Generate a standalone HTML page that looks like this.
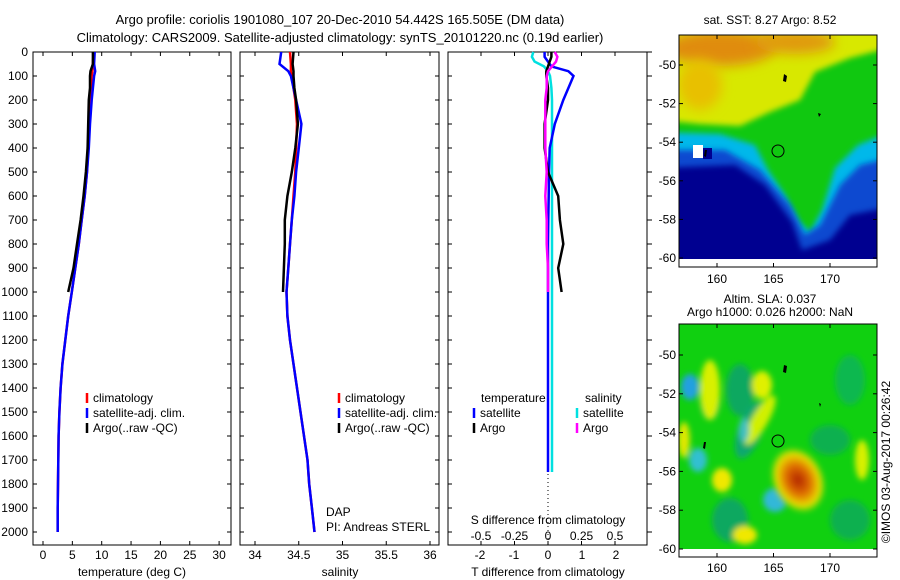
<!DOCTYPE html>
<html><head><meta charset="utf-8"><style>
html,body{margin:0;padding:0;background:#fff;}
svg{display:block;font-family:"Liberation Sans",sans-serif;}
</style></head><body>
<svg id="fig" width="900" height="580" viewBox="0 0 900 580">
<defs>
<filter id="bl" x="-20%" y="-20%" width="140%" height="140%"><feGaussianBlur stdDeviation="3"/></filter>
<filter id="bl2" x="-50%" y="-50%" width="200%" height="200%"><feGaussianBlur stdDeviation="6"/></filter>
<clipPath id="c1"><rect x="679" y="35" width="198" height="224"/></clipPath>
<clipPath id="c2"><rect x="679" y="324" width="198" height="225"/></clipPath>
<radialGradient id="hot"><stop offset="0" stop-color="#b02000"/><stop offset="0.45" stop-color="#e07000"/><stop offset="0.8" stop-color="#e8e000"/><stop offset="1" stop-color="#e8e000" stop-opacity="0"/></radialGradient>
</defs>
<text x="340" y="24" font-size="13" text-anchor="middle">Argo profile: coriolis 1901080_107 20-Dec-2010 54.442S 165.505E (DM data)</text>
<text x="340" y="42" font-size="13" text-anchor="middle">Climatology: CARS2009. Satellite-adjusted climatology: synTS_20101220.nc (0.19d earlier)</text>

<!-- SST map -->
<g>
<g clip-path="url(#c1)">
<rect x="679" y="35" width="198" height="224" fill="#10c810"/>
<polygon filter="url(#bl)" fill="#d8e800" points="660,20 900,20 900,45 850,58 815,72 800,100 770,112 740,126 700,124 660,120"/>
<ellipse filter="url(#bl2)" cx="720" cy="48" rx="55" ry="18" fill="#e08c10"/>
<ellipse filter="url(#bl2)" cx="795" cy="42" rx="40" ry="12" fill="#e09a10"/>
<ellipse filter="url(#bl2)" cx="700" cy="85" rx="22" ry="25" fill="#e8c000"/>
<polygon filter="url(#bl)" fill="#00b8ea" points="660,132 720,134 755,145 768,170 785,195 800,222 810,232 822,210 835,168 858,145 900,128 900,280 660,280"/>
<polygon filter="url(#bl)" fill="#1048d0" points="660,150 725,150 760,170 790,205 805,235 820,225 840,185 860,165 900,155 900,280 660,280"/>
<polygon filter="url(#bl)" fill="#000090" points="660,168 735,165 765,185 792,222 802,250 830,240 850,215 900,205 900,280 660,280"/>
<rect x="693" y="145" width="10" height="13" fill="#fff"/><rect x="703" y="148" width="9" height="11" fill="#000090"/>
</g>
<rect x="679" y="259" width="198" height="8" fill="#fff"/>
<rect x="679" y="35" width="198" height="232" fill="none" stroke="#000" stroke-width="1"/>
<path d="M784,74 l3,2 -1,6 -3,-1z M818,113 l3,1 -2,3z M705,150 l2,0 -1,7 -2,-1z" fill="#000"/>
<circle cx="778" cy="151" r="6" fill="none" stroke="#000"/>
<text x="770" y="24" font-size="12" text-anchor="middle">sat. SST: 8.27 Argo: 8.52</text>
</g>

<!-- SLA map -->
<g>
<g clip-path="url(#c2)">
<rect x="679" y="324" width="198" height="225" fill="#10d010"/>
<g filter="url(#bl)">
<ellipse cx="740" cy="390" rx="14" ry="26" fill="#10a860"/>
<ellipse cx="750" cy="430" rx="12" ry="30" fill="#10a870" transform="rotate(20 750 430)"/>
<ellipse cx="710" cy="400" rx="10" ry="20" fill="#10b060"/>
<ellipse cx="830" cy="440" rx="20" ry="15" fill="#10b050"/>
<ellipse cx="850" cy="380" rx="15" ry="25" fill="#10b850"/>
<ellipse cx="730" cy="520" rx="18" ry="22" fill="#10a860"/>
<ellipse cx="850" cy="520" rx="20" ry="20" fill="#10b050"/>
<ellipse cx="710" cy="390" rx="10" ry="30" fill="#d8f000"/>
<ellipse cx="760" cy="420" rx="8" ry="28" fill="#d0f000" transform="rotate(30 760 420)"/>
<ellipse cx="762" cy="385" rx="10" ry="14" fill="#e0f000"/>
<ellipse cx="722" cy="480" rx="10" ry="12" fill="#f0e800"/>
<ellipse cx="745" cy="535" rx="12" ry="9" fill="#f0e800"/>
<ellipse cx="862" cy="460" rx="7" ry="20" fill="#d8f000"/>
<ellipse cx="684" cy="440" rx="6" ry="18" fill="#e0e800"/>
<ellipse cx="690" cy="387" rx="9" ry="13" fill="#20a0e0"/>
<ellipse cx="698" cy="460" rx="9" ry="12" fill="#30c0d0"/>
<ellipse cx="775" cy="500" rx="12" ry="12" fill="#30b8d8"/>
<ellipse cx="744" cy="430" rx="5" ry="12" fill="#40c0c0"/>
</g>
<ellipse filter="url(#bl)" cx="798" cy="480" rx="26" ry="34" fill="url(#hot)" transform="rotate(-25 798 480)"/>
</g>
<rect x="679" y="549" width="198" height="8" fill="#fff"/>
<rect x="679" y="324" width="198" height="233" fill="none" stroke="#000" stroke-width="1"/>
<path d="M784,365 l3,1 -1,7 -3,-1z M819,403 l2,1 -1,3z M704,442 l2,0 -1,7 -2,-1z" fill="#000"/>
<circle cx="778" cy="441" r="6" fill="none" stroke="#000"/>
<text x="770" y="303" font-size="12" text-anchor="middle">Altim. SLA: 0.037</text>
<text x="770" y="316" font-size="12" text-anchor="middle">Argo h1000: 0.026 h2000: NaN</text>
</g>
<text x="0" y="0" font-size="12" transform="translate(890,462) rotate(-90)" text-anchor="middle">©IMOS 03-Aug-2017 00:26:42</text>

<text x="326" y="516" font-size="12">DAP</text>
<text x="326" y="531" font-size="12">PI: Andreas STERL</text>
<text x="548" y="524" font-size="12" text-anchor="middle">S difference from climatology</text>
<text x="548" y="576" font-size="12" text-anchor="middle">T difference from climatology</text>
<text x="132" y="576" font-size="12" text-anchor="middle">temperature (deg C)</text>
<text x="340" y="576" font-size="12" text-anchor="middle">salinity</text>
<g id="dyn"></g>
</svg>
<script>
// ---- data ----
var depthTicks = [0,100,200,300,400,500,600,700,800,900,1000,1100,1200,1300,1400,1500,1600,1700,1800,1900,2000];
var tempTicks = [0,5,10,15,20,25,30];
var salTicks = [34,34.5,35,35.5,36];
var tDiffTicks = [-2,-1,0,1,2];
var sDiffTicks = [-0.5,-0.25,0,0.25,0.5];
var sDiffTickLabels = ["-0.5","-0.25","0","0.25","0.5"];
var latTicks = [-50,-52,-54,-56,-58,-60];
var lonTicks = [160,165,170];

var profDepth = [0,50,80,100,150,200,300,400,500,600,700,800,900,1000,1100,1200,1300,1400,1500,1600,1700,1800,1900,2000];
var tClim = [8.6,8.5,8.4,8.3,8.2,8.1,7.9,7.7,7.5,7.1,6.6,6.1,5.5,4.9,4.3,3.8,3.3,3.0,2.8,2.65,2.6,2.55,2.5,2.5];
var tSat  = [8.8,8.7,8.9,8.7,8.5,8.3,8.0,7.8,7.5,7.1,6.6,6.1,5.5,4.9,4.3,3.8,3.3,3.0,2.8,2.65,2.6,2.55,2.5,2.5];
var tArgo = [8.5,8.5,8.1,8.0,8.0,7.8,7.7,7.6,7.3,6.9,6.4,5.8,5.2,4.3];
var sClim = [34.40,34.41,34.41,34.42,34.44,34.46,34.48,34.47,34.46,34.44,34.42,34.40,34.38,34.36,34.37,34.40,34.44,34.48,34.52,34.56,34.60,34.62,34.65,34.68];
var sSat  = [34.30,34.28,34.38,34.41,34.44,34.47,34.53,34.50,34.47,34.45,34.42,34.40,34.38,34.36,34.37,34.40,34.44,34.48,34.52,34.56,34.60,34.62,34.65,34.68];
var sArgo = [34.44,34.43,34.44,34.44,34.45,34.47,34.49,34.46,34.42,34.37,34.34,34.34,34.33,34.32];

var diffDepth = [0,20,40,60,80,100,150,200,300,400,500,600,700,800,900,1000,1200,1400,1600,1750];
var dTSat  = [-0.1,-0.1,0,0.1,0.6,0.75,0.6,0.45,0.2,0.05,0.03,0.02,0.01,0,0,0,0,0,0,0];
var dTArgo = [0.1,0.1,0.05,0,-0.05,-0.05,0,0,-0.1,-0.1,0,0.3,0.35,0.45,0.3,0.4];
var dSSat  = [-0.11,-0.12,-0.1,-0.03,0,0.015,0.025,0.03,0.03,0.03,0.03,0.03,0.03,0.03,0.03,0.03,0.03,0.03,0.03,0.03];
var dSArgo = [0.05,0.07,0.06,0.03,0,-0.01,-0.01,-0.02,-0.02,-0.02,-0.01,-0.02,-0.01,-0.01,0,0];

// ---- scales ----
function yD(d){ return 52 + d*0.24; }
function xT(t){ return 43 + t*5.87; }
function xS(s){ return 255 + (s-34)*87.5; }
function xDT(t){ return 548 + t*34; }
function xDS(s){ return 548 + s*134; }
function yLat1(l){ return 65 + (-50-l)*19.3; }
function yLat2(l){ return 355 + (-50-l)*19.4; }
function xLon(l){ return 717 + (l-160)*11.3; }

var NS='http://www.w3.org/2000/svg';
var root=document.getElementById('dyn');
function mk(tag,attrs,parent){var e=document.createElementNS(NS,tag);for(var k in attrs)e.setAttribute(k,attrs[k]);(parent||root).appendChild(e);return e;}
function txt(x,y,s,anchor,parent){var e=mk('text',{x:x,y:y,'font-size':12,'text-anchor':anchor||'middle'},parent);e.textContent=s;return e;}

var panels=[[33,231],[240,439],[448,647]];
panels.forEach(function(p,i){
  var r=mk('rect',{x:p[0],y:52,width:p[1]-p[0],height:493,fill:'none',stroke:'#000','stroke-width':1});
  
  
  depthTicks.forEach(function(d){
    var y=yD(d);
    mk('line',{x1:p[0],x2:p[0]+4,y1:y,y2:y,stroke:'#000'});
    if(i<2) mk('line',{x1:p[1]-4,x2:p[1],y1:y,y2:y,stroke:'#000'});
    else mk('line',{x1:p[1],x2:p[1]+5,y1:y,y2:y,stroke:'#000'});
  });
});
depthTicks.forEach(function(d){
  var t=txt(28,yD(d)+4,String(d),'end');
  
  
});
function xTicks(vals,fx,labels,ly,top){
  vals.forEach(function(v,i){
    var x=fx(v);
    mk('line',{x1:x,x2:x,y1:545,y2:541,stroke:'#000'});
    if(top) mk('line',{x1:x,x2:x,y1:52,y2:56,stroke:'#000'});
    var t=txt(x,ly,labels[i]);
    
    
  });
}
xTicks(tempTicks,xT,tempTicks.map(String),559,true);
xTicks(salTicks,xS,salTicks.map(String),559,true);
xTicks(sDiffTicks,xDS,sDiffTickLabels,540,true);
tDiffTicks.forEach(function(v){var t=txt(xDT(v),559,String(v));
  
  });
mk('line',{x1:548,x2:548,y1:470,y2:545,stroke:'#000','stroke-dasharray':'1,3'});

function line(xs,ds,fx,color,name,w){
  var pts=xs.map(function(v,i){return fx(v).toFixed(1)+','+yD(ds[i]).toFixed(1);}).join(' ');
  var l=mk('polyline',{points:pts,fill:'none',stroke:color,'stroke-width':w||2.5});
  
  
}
line(tClim,profDepth,xT,'#f00','temp-climatology-line');
line(tSat,profDepth,xT,'#00f','temp-satellite-line');
line(tArgo,profDepth.slice(0,tArgo.length),xT,'#000','temp-argo-line');
line(sClim,profDepth,xS,'#f00','sal-climatology-line');
line(sSat,profDepth,xS,'#00f','sal-satellite-line');
line(sArgo,profDepth.slice(0,sArgo.length),xS,'#000','sal-argo-line');
line(dSSat,diffDepth,xDS,'#00e0e0','s-diff-satellite-line');
line(dTSat,diffDepth,xDT,'#00f','t-diff-satellite-line');
line(dTArgo,diffDepth.slice(0,dTArgo.length),xDT,'#000','t-diff-argo-line');
line(dSArgo,diffDepth.slice(0,dSArgo.length),xDS,'#f0f','s-diff-argo-line');

function legend(x,y,color,label){
  mk('line',{x1:x,x2:x,y1:y-9,y2:y+1,stroke:color,'stroke-width':2.5});
  var t=txt(x+6,y,label,'start');
  
  
}
[[87,'#f00','climatology'],[87,'#00f','satellite-adj. clim.'],[87,'#000','Argo(..raw -QC)']].forEach(function(e,i){legend(e[0],402+i*15,e[1],e[2]);});
[[339,'#f00','climatology'],[339,'#00f','satellite-adj. clim.'],[339,'#000','Argo(..raw -QC)']].forEach(function(e,i){legend(e[0],402+i*15,e[1],e[2]);});
var lh=txt(481,402,'temperature','start');


var lh2=txt(585,402,'salinity','start');


legend(474,417,'#00f','satellite');legend(474,432,'#000','Argo');
legend(577,417,'#00e0e0','satellite');legend(577,432,'#f0f','Argo');

function mapTicks(fy,top,bot,ly){
  latTicks.forEach(function(l){var y=fy(l);
    mk('line',{x1:679,x2:683,y1:y,y2:y,stroke:'#000'});
    mk('line',{x1:873,x2:877,y1:y,y2:y,stroke:'#000'});
    var t=txt(676,y+4,String(l),'end');
    
    });
  lonTicks.forEach(function(l){var x=xLon(l);
    mk('line',{x1:x,x2:x,y1:top,y2:top+4,stroke:'#000'});
    mk('line',{x1:x,x2:x,y1:bot-4,y2:bot,stroke:'#000'});
    var t=txt(x,ly,String(l));
    
    });
}
mapTicks(yLat1,35,267,283);
mapTicks(yLat2,324,557,572);
</script>
</body></html>
